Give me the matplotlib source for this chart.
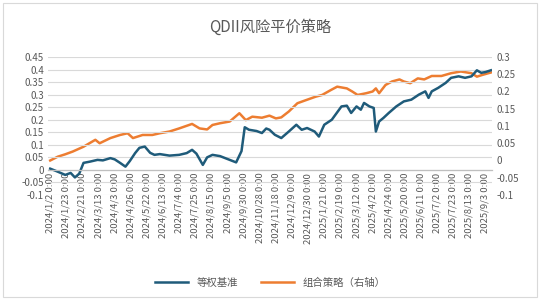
import matplotlib
matplotlib.use("Agg")
import matplotlib.pyplot as plt
from matplotlib.patches import Rectangle

plt.rcParams['font.family'] = ['Noto Sans CJK SC', 'DejaVu Sans']

# x axis: trading days, one label every 15 days
tick_dates = ["2024/1/2", "2024/1/23", "2024/2/21", "2024/3/13", "2024/4/3",
              "2024/4/26", "2024/5/22", "2024/6/13", "2024/7/4", "2024/7/25",
              "2024/8/15", "2024/9/5", "2024/9/30", "2024/10/28", "2024/11/18",
              "2024/12/9", "2024/12/30", "2025/1/21", "2025/2/19", "2025/3/12",
              "2025/4/2", "2025/4/24", "2025/5/20", "2025/6/11", "2025/7/2",
              "2025/7/23", "2025/8/13", "2025/9/3"]
n_days = 411

# 等权基准 (left axis) at trading-day positions
bench_day = [0, 7, 14, 19, 23, 27, 31, 37, 44, 49, 56, 60, 65, 70, 74, 79, 83, 88,
             93, 97, 102, 111, 120, 127, 132, 136, 142, 146, 151, 158, 167, 173,
             178, 181, 185, 192, 197, 201, 204, 209, 215, 222, 229, 234, 239, 246,
             250, 255, 262, 271, 276, 280, 285, 289, 292, 297, 301, 303, 306, 310,
             315, 322, 329, 336, 343, 349, 352, 355, 361, 368, 373, 380, 386, 392,
             397, 401, 405, 410]
bench_val = [0.005, -0.007, -0.02, -0.012, -0.03, -0.015, 0.028, 0.033, 0.04, 0.038,
             0.047, 0.042, 0.028, 0.013, 0.035, 0.067, 0.088, 0.093, 0.068, 0.06,
             0.063, 0.057, 0.06, 0.067, 0.08, 0.065, 0.02, 0.05, 0.06, 0.055, 0.04,
             0.03, 0.075, 0.17, 0.16, 0.155, 0.147, 0.165, 0.16, 0.14, 0.127, 0.153,
             0.18, 0.16, 0.167, 0.153, 0.133, 0.18, 0.2, 0.253, 0.256, 0.227, 0.253,
             0.24, 0.267, 0.253, 0.247, 0.153, 0.193, 0.207, 0.227, 0.253, 0.273,
             0.28, 0.3, 0.313, 0.287, 0.313, 0.327, 0.347, 0.367, 0.373, 0.367,
             0.373, 0.397, 0.387, 0.39, 0.397]

# 组合策略 (right axis)
port_day = [0, 7, 14, 21, 31, 42, 46, 56, 65, 72, 77, 86, 95, 102, 111, 120, 132,
            139, 146, 151, 158, 167, 176, 182, 188, 197, 204, 210, 215, 222, 230,
            238, 247, 253, 261, 267, 276, 281, 286, 294, 300, 303, 306, 312, 318,
            325, 329, 335, 342, 348, 355, 364, 373, 382, 392, 397, 402, 410]
port_val = [0.0, 0.011, 0.018, 0.026, 0.04, 0.06, 0.05, 0.065, 0.074, 0.079, 0.065,
            0.074, 0.074, 0.079, 0.084, 0.093, 0.106, 0.093, 0.09, 0.103, 0.108,
            0.113, 0.137, 0.117, 0.127, 0.124, 0.13, 0.122, 0.125, 0.142, 0.166,
            0.175, 0.185, 0.19, 0.204, 0.214, 0.209, 0.2, 0.19, 0.195, 0.2, 0.209,
            0.195, 0.219, 0.229, 0.235, 0.229, 0.224, 0.238, 0.235, 0.245, 0.245,
            0.253, 0.258, 0.253, 0.243, 0.248, 0.255]

left_ticks = [-0.1, -0.05, 0, 0.05, 0.1, 0.15, 0.2, 0.25, 0.3, 0.35, 0.4, 0.45]
right_ticks = [-0.1, -0.05, 0, 0.05, 0.1, 0.15, 0.2, 0.25, 0.3]

BLUE = "#1f5b7a"
ORANGE = "#ed7d31"
GREY = "#595959"


def fmt(v):
    s = ("%.2f" % v).rstrip("0").rstrip(".")
    return "0" if s in ("-0", "") else s


fig = plt.figure(figsize=(5.4, 3.0), dpi=100)
fig.patches.append(Rectangle((0.006, 0.01), 0.988, 0.98, transform=fig.transFigure,
                             fill=False, edgecolor="#d9d9d9", linewidth=0.8))

ax = fig.add_axes([0.089, 0.35, 0.822, 0.46])
ax2 = ax.twinx()

l1, = ax.plot(bench_day, bench_val, color=BLUE, linewidth=1.8, label="等权基准")
l2, = ax2.plot(port_day, port_val, color=ORANGE, linewidth=1.8, label="组合策略（右轴）")
ax2.set_zorder(ax.get_zorder() - 1)
ax.patch.set_visible(False)

ax.set_ylim(-0.1, 0.45)
ax2.set_ylim(-0.1, 0.3)
ax.set_xlim(-2, n_days)

ax.set_yticks(left_ticks)
ax.set_yticklabels([fmt(v) for v in left_ticks])
ax2.set_yticks(right_ticks)
ax2.set_yticklabels([fmt(v) for v in right_ticks])

ax.set_xticks(range(0, 15 * len(tick_dates), 15))
ax.set_xticklabels([d + " 0:00" for d in tick_dates])

ax.grid(axis="y", color="#d9d9d9", linewidth=0.8)
ax.set_axisbelow(True)

for a in (ax, ax2):
    for side in ("left", "right", "top", "bottom"):
        a.spines[side].set_visible(False)
    a.tick_params(length=0, labelsize=7, colors=GREY, pad=3)
ax.spines["bottom"].set_visible(True)
ax.spines["bottom"].set_position(("data", 0))
ax.spines["bottom"].set_color("#bfbfbf")
ax.spines["bottom"].set_linewidth(0.9)
ax.tick_params(axis="x", pad=2, labelrotation=90, labelsize=6.8)

fig.text(0.5, 0.91, "QDII风险平价策略", ha="center", va="center", fontsize=11, color=GREY)

fig.legend([l1, l2], ["等权基准", "组合策略（右轴）"], loc="center",
           bbox_to_anchor=(0.5, 0.057), ncol=2, frameon=False, fontsize=7.5,
           handlelength=3.2, columnspacing=2.2, labelcolor=GREY)

fig.savefig("out.png", dpi=100)
